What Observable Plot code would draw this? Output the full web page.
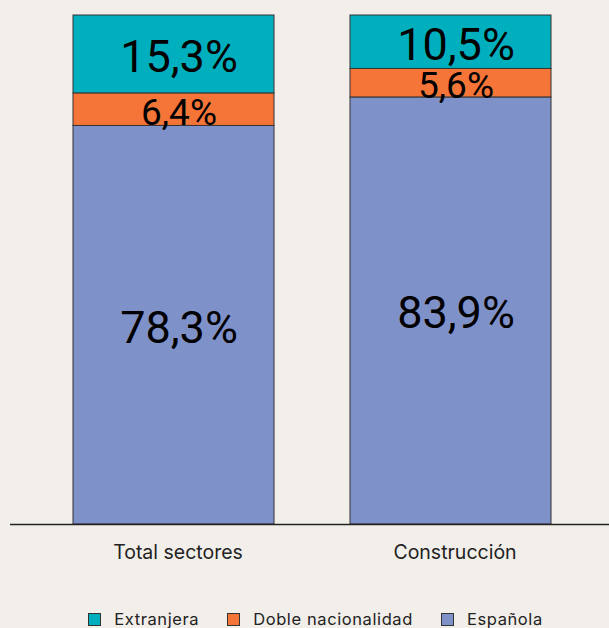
<!DOCTYPE html>
<html><head><meta charset="utf-8">
<script src="https://cdn.jsdelivr.net/npm/d3@7"></script>
<script src="https://cdn.jsdelivr.net/npm/@observablehq/plot@0.6"></script>
<style>
html,body{margin:0;padding:0;background:#f2eeea;}
#chart{width:609px;height:628px;position:relative;font-family:Inter,"Noto Sans",sans-serif;}
.legend{display:flex;justify-content:center;align-items:center;font-size:16.5px;color:#222;letter-spacing:0.6px;height:20px;margin-top:29px;padding-left:22px}
.legend .item{display:flex;align-items:center;margin:0 14px}
.legend .sw{width:11px;height:11px;border:1px solid #333;margin-right:13px;box-sizing:content-box}
</style></head>
<body><div id="chart"></div>
<script>
const categories = ["Total sectores", "Construcción"];
const series = ["Española", "Doble nacionalidad", "Extranjera"];
const colors = ["#7f91c9", "#f47537", "#00afbe"];
const espanola = [78.3, 83.9];
const doble = [6.4, 5.6];
const extranjera = [15.3, 10.5];
const legendOrder = ["Extranjera", "Doble nacionalidad", "Española"];

const valuesBySeries = [espanola, doble, extranjera];
const data = [];
series.forEach((s, si) => categories.forEach((c, ci) => data.push({cat: c, type: s, value: valuesBySeries[si][ci]})));
const fmt = v => v.toFixed(1).replace(".", ",") + "%";

const plot = Plot.plot({
  width: 609,
  height: 580,
  marginLeft: 10,
  marginRight: 0,
  marginTop: 15,
  marginBottom: 56,
  style: {background: "transparent", fontFamily: "Inter, 'Noto Sans', sans-serif"},
  x: {domain: categories, paddingInner: 0.2744, paddingOuter: 0.2184, align: 0.52, label: null, tickSize: 0},
  y: {domain: [0, 100], axis: null},
  color: {domain: series, range: colors},
  marks: [
    Plot.barY(data, {x: "cat", y: "value", fill: "type", stroke: "#333", strokeWidth: 1, order: series}),
    Plot.text(data, Plot.stackY({x: "cat", y: "value", z: "type", order: series, text: d => fmt(d.value),
      fontSize: d => d.value >= 10 ? 45 : 37, fill: "#000", dx: 5, dy: 3, fontFamily: "Roboto, sans-serif", fontWeight: 400})),
    Plot.ruleY([0], {stroke: "#222", strokeWidth: 1.5}),
    Plot.axisX({tickSize: 0, tickPadding: 21, fontSize: 19.5, fill: "#222", label: null, dx: 4})
  ]
});
document.getElementById("chart").appendChild(plot);

const leg = document.createElement("div");
leg.className = "legend";
legendOrder.forEach(s => {
  const it = document.createElement("div"); it.className = "item";
  const sw = document.createElement("span"); sw.className = "sw"; sw.style.background = colors[series.indexOf(s)];
  const tx = document.createElement("span"); tx.textContent = s;
  it.appendChild(sw); it.appendChild(tx); leg.appendChild(it);
});
document.getElementById("chart").appendChild(leg);
</script></body></html>
